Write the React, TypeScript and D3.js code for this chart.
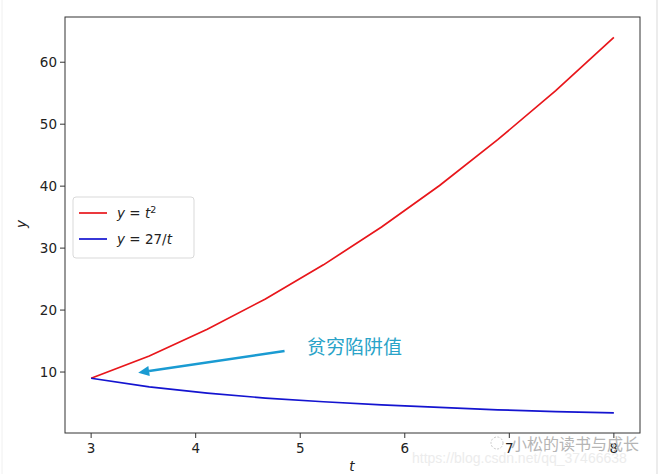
import React from "react";
import * as d3 from "d3";

const tValues = [3, 3.556, 4.111, 4.667, 5.222, 5.778, 6.333, 6.889, 7.444, 8];
const squareValues = [9, 12.6, 16.9, 21.8, 27.3, 33.4, 40.1, 47.5, 55.4, 64];
const inverseValues = [9, 7.6, 6.6, 5.8, 5.2, 4.7, 4.3, 3.9, 3.6, 3.4];
const xTicks = [3, 4, 5, 6, 7, 8];
const yTicks = [10, 20, 30, 40, 50, 60];
const annotationText = "贫穷陷阱值";
const annotationTarget = [3.45, 9.9];
const annotationSource = [4.85, 13.4];

const W = 664;
const H = 474;
const L = 65, R = 640, T = 17, B = 433;
const FONT = "DejaVu Sans, sans-serif";

export default function App() {
  const x = d3.scaleLinear().domain([2.75, 8.25]).range([L, R]);
  const y = d3.scaleLinear().domain([0.16, 67.3]).range([B, T]);
  const line = d3
    .line<number>()
    .x((_, i) => x(tValues[i]))
    .y((d) => y(d));

  const ax = x(annotationSource[0]);
  const ay = y(annotationSource[1]);
  const bx = x(annotationTarget[0]);
  const by = y(annotationTarget[1]);
  const ang = Math.atan2(by - ay, bx - ax);
  const hl = 11, hw = 5;
  const baseX = bx - hl * Math.cos(ang);
  const baseY = by - hl * Math.sin(ang);
  const px = -Math.sin(ang), py = Math.cos(ang);
  const head = `M${bx},${by} L${baseX + px * hw},${baseY + py * hw} L${baseX - px * hw},${baseY - py * hw} Z`;

  return (
    <svg
      width={W}
      height={H}
      style={{ position: "absolute", left: 0, top: 0, background: "#fff" }}
      fontFamily={FONT}
    >
      <rect x={0} y={0} width={W} height={H} fill="#fff" />
      <line x1={657} y1={0} x2={657} y2={H} stroke="#e6e6e6" strokeWidth={1.5} />
      <line x1={2} y1={0} x2={2} y2={H} stroke="#f0f0f0" strokeWidth={1} />

      <path d={line(squareValues) || ""} fill="none" stroke="#e8161b" strokeWidth={1.7} />
      <path d={line(inverseValues) || ""} fill="none" stroke="#1414d0" strokeWidth={1.7} />

      <rect x={L} y={T} width={R - L} height={B - T} fill="none" stroke="#333" strokeWidth={1} />

      {xTicks.map((t) => (
        <g key={"x" + t}>
          <line x1={x(t)} x2={x(t)} y1={B} y2={B + 5} stroke="#333" />
          <text x={x(t)} y={B + 20} fontSize={13.5} textAnchor="middle" fill="#222">
            {t}
          </text>
        </g>
      ))}
      {yTicks.map((t) => (
        <g key={"y" + t}>
          <line x1={L - 5} x2={L} y1={y(t)} y2={y(t)} stroke="#333" />
          <text x={L - 8} y={y(t) + 5} fontSize={13.5} textAnchor="end" fill="#222">
            {t}
          </text>
        </g>
      ))}

      <text x={352} y={471} fontSize={13.5} fontStyle="italic" textAnchor="middle" fill="#222">
        t
      </text>
      <text
        transform="translate(26,224) rotate(-90)"
        fontSize={13.5}
        fontStyle="italic"
        textAnchor="middle"
        fill="#222"
      >
        y
      </text>

      <g>
        <rect x={73} y={197} width={121} height={61} rx={3} fill="#fff" stroke="#d9d9d9" />
        <line x1={79} x2={107} y1={213} y2={213} stroke="#e8161b" strokeWidth={1.7} />
        <text x={117} y={218} fontSize={13.5} fill="#222">
          <tspan fontStyle="italic">y</tspan>
          <tspan> = </tspan>
          <tspan fontStyle="italic">t</tspan>
          <tspan fontSize={9.5} dy={-5}>2</tspan>
        </text>
        <line x1={79} x2={107} y1={239} y2={239} stroke="#1414d0" strokeWidth={1.7} />
        <text x={117} y={244} fontSize={13.5} fill="#222">
          <tspan fontStyle="italic">y</tspan>
          <tspan> = 27/</tspan>
          <tspan fontStyle="italic">t</tspan>
        </text>
      </g>

      <line x1={ax} y1={ay} x2={baseX} y2={baseY} stroke="#1a9bd2" strokeWidth={2.5} />
      <path d={head} fill="#1a9bd2" />
      <text
        x={307}
        y={354}
        fontSize={19}
        fill="#2aa3c8"
        fontFamily="Noto Sans CJK SC, sans-serif"
      >
        {annotationText}
      </text>

      <circle cx={497} cy={443} r={6} fill="none" stroke="#c8c8c8" strokeDasharray="2 1.5" />
      <text x={511} y={450} fontSize={16} fill="#b5b5b5" fontFamily="Noto Sans CJK SC, sans-serif">
        小松的读书与成长
      </text>
      <text x={412} y={463} fontSize={14} fill="#ececec" fontFamily="Liberation Sans, sans-serif">
        https://blog.csdn.net/qq_37466638
      </text>
    </svg>
  );
}
